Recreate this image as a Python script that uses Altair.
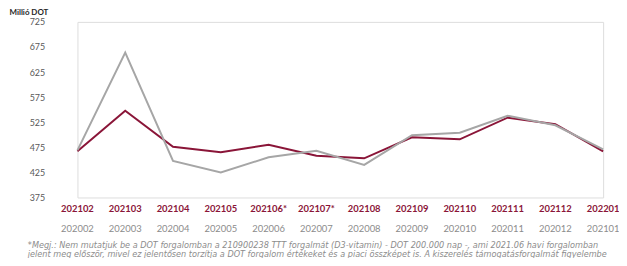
import altair as alt
import pandas as pd

labels_2021 = ["202102", "202103", "202104", "202105", "202106*", "202107*",
               "202108", "202109", "202110", "202111", "202112", "202201"]
labels_2020 = ["202002", "202003", "202004", "202005", "202006", "202007",
               "202008", "202009", "202010", "202011", "202012", "202101"]
values_2021 = [467, 548, 476, 465, 480, 458, 453, 495, 491, 534, 521, 467]
values_2020 = [469, 664, 448, 425, 455, 468, 440, 499, 504, 538, 519, 471]
y_ticks = [375, 425, 475, 525, 575, 625, 675, 725]
footnote = [
    "*Megj.: Nem mutatjuk be a DOT forgalomban a 210900238 TTT forgalmát (D3-vitamin) - DOT 200.000 nap -, ami 2021.06 havi forgalomban",
    "jelent meg először, mivel ez jelentősen torzítja a DOT forgalom értékeket és a piaci összképet is. A kiszerelés támogatásforgalmát figyelembe",
]

RED = "#8a1538"
GRAY = "#a6a6a6"
FONT = "Lato"

n = len(labels_2021)
df = pd.DataFrame({
    "i": list(range(n)),
    "lab21": labels_2021,
    "lab20": labels_2020,
})
long = pd.DataFrame({
    "i": list(range(n)) * 2,
    "v": values_2021 + values_2020,
    "s": ["2021"] * n + ["2020"] * n,
    "o": [0] * n + [1] * n,
})

x = alt.X("i:Q", scale=alt.Scale(domain=[0, 11]), axis=None)

lines = alt.Chart(long).mark_line(strokeWidth=2).encode(
    x=x,
    y=alt.Y("v:Q",
            scale=alt.Scale(domain=[375, 725], nice=False, zero=False),
            axis=alt.Axis(values=y_ticks, domain=False, ticks=False, grid=False,
                          labelColor="#595959", labelFont=FONT, labelFontSize=9,
                          labelPadding=33,
                          title="Millió DOT", titleAngle=0, titleAlign="left",
                          titleBaseline="bottom", titleX=-69, titleY=-5,
                          titleFont=FONT, titleFontSize=8, titleFontWeight="bold",
                          titleColor="#262626")),
    color=alt.Color("s:N", scale=alt.Scale(domain=["2021", "2020"], range=[RED, GRAY]),
                    legend=None),
    order="o:Q",
    detail="s:N",
)

base = alt.Chart(df)
text21 = base.mark_text(color=RED, font=FONT, fontSize=9.5, fontWeight="bold",
                        baseline="middle").encode(x=x, y=alt.value(189), text="lab21:N")
text20 = base.mark_text(color="#8c8c8c", font=FONT, fontSize=9.5,
                        baseline="middle").encode(x=x, y=alt.value(209), text="lab20:N")

note1 = alt.Chart(pd.DataFrame({"t": [footnote[0]]})).mark_text(
    color="#8c8c8c", font="DejaVu Sans", fontSize=8.2, fontStyle="italic",
    align="left", baseline="alphabetic").encode(x=alt.value(-50), y=alt.value(227.5), text="t:N")
note2 = alt.Chart(pd.DataFrame({"t": [footnote[1]]})).mark_text(
    color="#8c8c8c", font="DejaVu Sans", fontSize=8.2, fontStyle="italic",
    align="left", baseline="alphabetic").encode(x=alt.value(-50), y=alt.value(236.8), text="t:N")

chart = alt.layer(lines, text21, text20, note1, note2).properties(
    width=530, height=177,
    autosize=alt.AutoSizeParams(type="none"),
    padding={"left": 70, "top": 13, "right": 16, "bottom": 60},
).configure_view(stroke=None).configure(background="white")

chart.save("out.html", embed_options={"renderer": "svg", "actions": False})
